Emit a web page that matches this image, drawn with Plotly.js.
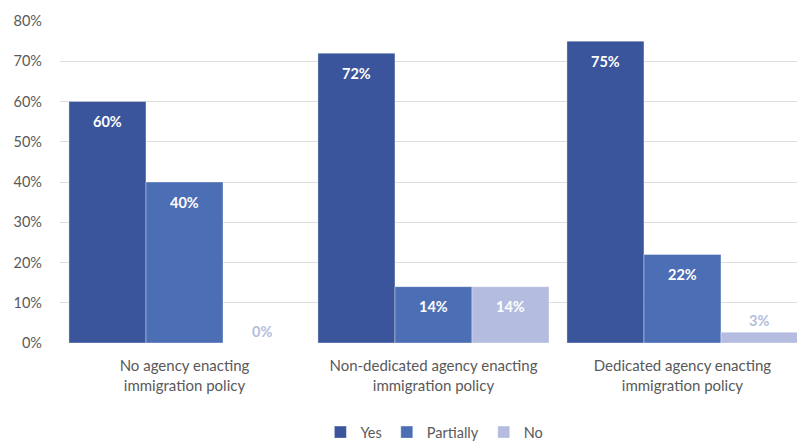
<!DOCTYPE html>
<html>
<head>
<meta charset="utf-8">
<script src="https://cdn.plot.ly/plotly-3.0.1.min.js"></script>
<style>
  html, body { margin: 0; padding: 0; background: #ffffff; }
  #chart { width: 797px; height: 441px; }
</style>
</head>
<body>
<div id="chart"></div>
<script>
// ---- Data ----
const categories = [
  "No agency enacting<br>immigration policy",
  "Non-dedicated agency enacting<br>immigration policy",
  "Dedicated agency enacting<br>immigration policy"
];
const seriesNames = ["Yes", "Partially", "No"];
const yesValues = [60, 72, 75];
const partiallyValues = [40, 14, 22];
const noValues = [0, 14, 2.7];
const yesLabels = ["60%", "72%", "75%"];
const partiallyLabels = ["40%", "14%", "22%"];
const noLabels = ["0%", "14%", "3%"];
const yTickValues = [0, 10, 20, 30, 40, 50, 60, 70, 80];
const yTickLabels = ["0%", "10%", "20%", "30%", "40%", "50%", "60%", "70%", "80%"];

// ---- Styles ----
const colors = ["#3A559B", "#4C6EB5", "#B4BDE0"];
const FONT = "Lato, 'Open Sans', sans-serif";
const bargap = 0.072;

const allValues = [yesValues, partiallyValues, noValues];
const allLabels = [yesLabels, partiallyLabels, noLabels];

const traces = allValues.map((vals, i) => ({
  type: "bar",
  name: seriesNames[i],
  x: categories,
  y: vals,
  marker: { color: colors[i], line: { color: "rgba(255,255,255,0.45)", width: 0.8 } },
  hoverinfo: "skip"
}));

// data labels as annotations, placed from the data through the axes
const nSeries = allValues.length;
const barW = (1 - bargap) / nSeries;
const annotations = [];
allValues.forEach((vals, i) => {
  vals.forEach((v, j) => {
    const inside = v >= 5;
    annotations.push({
      x: j + (i - (nSeries - 1) / 2) * barW,
      y: v,
      xref: "x", yref: "y",
      text: allLabels[i][j],
      showarrow: false,
      yanchor: "middle",
      yshift: inside ? -20 : 12,
      font: { family: FONT, size: 14.5, color: inside ? "#ffffff" : colors[2], weight: 700 }
    });
  });
});

const layout = {
  width: 797, height: 441,
  margin: { l: 60, r: 0, t: 21, b: 98, autoexpand: false },
  paper_bgcolor: "#ffffff",
  plot_bgcolor: "#ffffff",
  barmode: "group",
  bargap: bargap,
  bargroupgap: 0,
  font: { family: FONT, size: 14, color: "#595959" },
  xaxis: {
    type: "category",
    range: [-0.5, 2.46],
    showgrid: false,
    zeroline: false,
    showline: false,
    ticks: "",
    ticklabelstandoff: 12,
    tickfont: { family: FONT, size: 15, color: "#595959" },
    fixedrange: true
  },
  yaxis: {
    range: [0, 80],
    tickvals: yTickValues,
    ticktext: yTickLabels,
    showgrid: true,
    gridcolor: "#DDDDDD",
    gridwidth: 1,
    zeroline: false,
    showline: false,
    ticks: "",
    ticklabelstandoff: 17,
    tickfont: { family: FONT, size: 14.5, color: "#595959" },
    fixedrange: true
  },
  showlegend: true,
  legend: {
    orientation: "h",
    x: 0.508, xanchor: "center",
    yref: "container",
    y: 0.02, yanchor: "middle",
    font: { family: FONT, size: 14.5, color: "#595959" },
    itemclick: false, itemdoubleclick: false
  },
  annotations: annotations
};

Plotly.newPlot("chart", traces, layout, { displayModeBar: false, staticPlot: true });
</script>
</body>
</html>
